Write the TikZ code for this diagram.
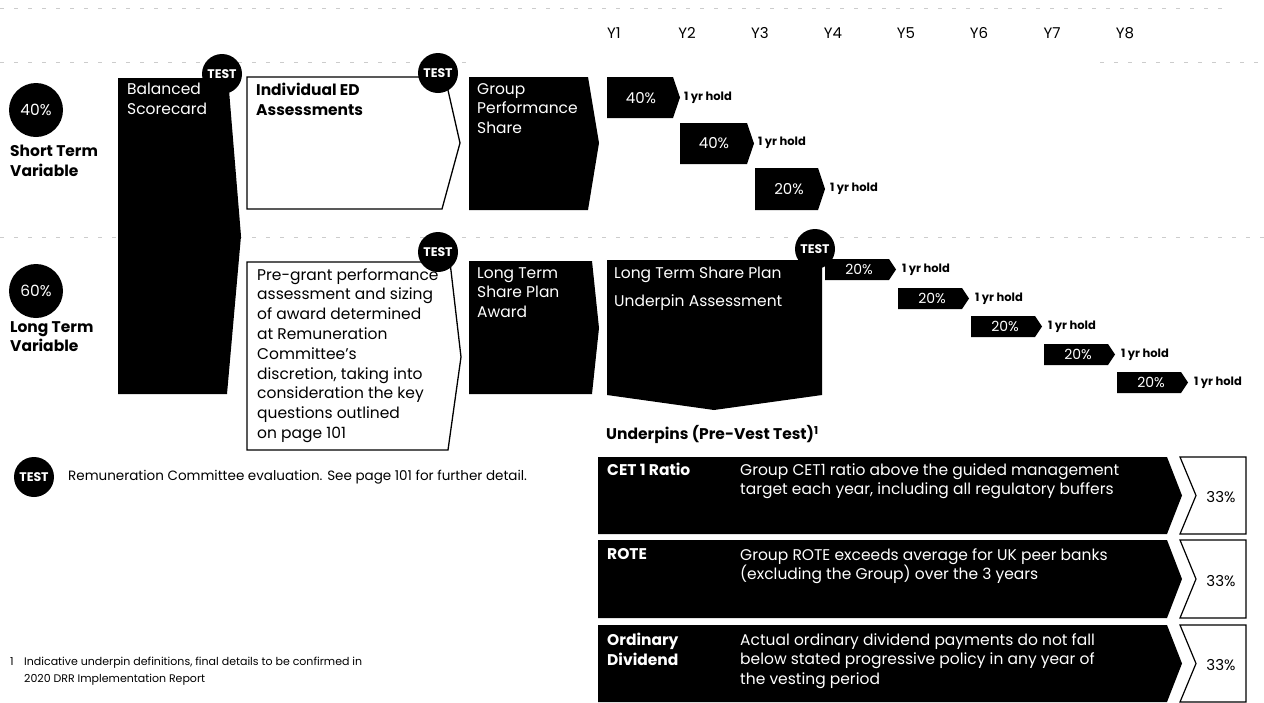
\documentclass[tikz,border=0pt]{standalone}
\usepackage{fontspec}
\setmainfont{Poppins}
\begin{document}
\begin{tikzpicture}[x=1pt,y=-1pt,
  lbl/.style={anchor=north west,inner sep=0pt,align=left,font=\fontsize{15.5}{19.8}\selectfont},
  blbl/.style={lbl,font=\bfseries\fontsize{15.5}{19.8}\selectfont},
  wlbl/.style={lbl,text=white},
  testc/.style={circle,fill=black,minimum size=40pt,inner sep=0pt,text=white,font=\bfseries\fontsize{12.5}{12.5}\selectfont},
  bigc/.style={circle,fill=black,minimum size=54pt,inner sep=0pt,text=white,font=\fontsize{15.5}{15.5}\selectfont},
  pct/.style={text=white,inner sep=0pt,font=\fontsize{14}{14}\selectfont},
  hold/.style={anchor=west,inner sep=0pt,font=\bfseries\fontsize{11.5}{11.5}\selectfont},
  yr/.style={inner sep=0pt,font=\fontsize{15}{15}\selectfont},
  small/.style={anchor=west,inner sep=0pt,align=left,font=\fontsize{11}{17}\selectfont},
  guide/.style={gray!40,dash pattern=on 4pt off 10pt,line width=0.8pt},
  wbox/.style={fill=white,draw=black,line width=1.3pt,line join=miter}]
\useasboundingbox (0,0) rectangle (1264,702);
\fill[white] (0,0) rectangle (1264,702);

% faint guide lines
\draw[guide] (0,8) -- (1230,8);
\draw[guide] (0,62) -- (470,62);
\draw[guide] (1100,62) -- (1264,62);
\draw[guide] (0,237) -- (1264,237);

% years
\foreach \k in {1,...,8} {
  \node[yr] (y\k) at ({614+73*(\k-1)},33) {Y\k};
}

% left circles and labels
\node[bigc] (c40) at (36,110) {40\%};
\node[blbl] (stv) at (10,145) {Short Term\\Variable};
\node[bigc] (c60) at (36,291) {60\%};
\node[blbl] (ltv) at (10,321) {Long Term\\Variable};

% Balanced scorecard
\fill (118,78) -- (228,78) -- (241,236) -- (227,394) -- (118,394) -- cycle;
\node[wlbl] (bs) at (127,83) {Balanced\\Scorecard};

% Individual ED
\draw[wbox] (247,77) -- (445,77) -- (460,143) -- (442,209) -- (247,209) -- cycle;
\node[blbl] (ied) at (256,83) {Individual ED\\Assessments};

% Group performance share
\fill (469,77) -- (588,77) -- (599,143) -- (588,210) -- (469,210) -- cycle;
\node[wlbl] (gps) at (477,83) {Group\\Performance\\Share};

% short term chevrons
\fill (607,77) -- (673,77) -- (680,97.5) -- (673,118) -- (607,118) -- cycle;
\node[pct,font=\fontsize{15}{15}\selectfont] (s1) at (641,98) {40\%};
\node[hold] (h1) at (684,98) {1 yr hold};
\fill (680,123) -- (747,123) -- (754,143.5) -- (747,164) -- (680,164) -- cycle;
\node[pct,font=\fontsize{15}{15}\selectfont] (s2) at (714,143) {40\%};
\node[hold] (h2) at (758,143) {1 yr hold};
\fill (755,168) -- (818,168) -- (825,189) -- (818,210) -- (755,210) -- cycle;
\node[pct,font=\fontsize{15}{15}\selectfont] (s3) at (789,189) {20\%};
\node[hold] (h3) at (830,189) {1 yr hold};

% Pre-grant white box
\draw[wbox] (247,262) -- (450,262) -- (461,357) -- (448,450) -- (247,450) -- cycle;
\node[lbl] (pg) at (257,268) {Pre-grant performance\\assessment and sizing\\of award determined\\at Remuneration\\Committee's\\discretion, taking into\\consideration the key\\questions outlined\\on page 101};

% LTSP award
\fill (469,261) -- (592,261) -- (599,328) -- (592,394) -- (469,394) -- cycle;
\node[wlbl] (lta) at (477,267) {Long Term\\Share Plan\\Award};

% LTSP underpin assessment
\fill (607,260) -- (822,260) -- (822,395) -- (714,410) -- (607,395) -- cycle;
\node[wlbl] (ltsp) at (614,267) {Long Term Share Plan};
\node[wlbl] (ua) at (614,294) {Underpin Assessment};

% long term chevrons
\foreach \i/\x/\y in {1/825/259,2/898/288,3/971/316,4/1044/344,5/1117/372} {
  \fill (\x,\y) -- ++(64,0) -- ++(7,10.5) -- ++(-7,10.5) -- ++(-64,0) -- cycle;
  \node[pct] (lp\i) at (\x+34,\y+10.5) {20\%};
  \node[hold] (lh\i) at (\x+77,\y+10.5) {1 yr hold};
}

% TEST circles
\node[testc] (t1) at (222,74) {TEST};
\node[testc] (t2) at (438,73) {TEST};
\node[testc] (t3) at (438,252) {TEST};
\node[testc] (t4) at (815,249) {TEST};

% legend
\node[testc] (tl) at (34,477) {TEST};
\node[small,font=\fontsize{13.5}{17}\selectfont] (leg) at (68,477) {Remuneration Committee evaluation. See page 101 for further detail.};
\node[small,anchor=north west] (fn1) at (10,657) {1};
\node[small,anchor=north west] (fn) at (24,657) {Indicative underpin definitions, final details to be confirmed in\\2020 DRR Implementation Report};

% underpins
\node[blbl] (uph) at (606,425) {Underpins (Pre-Vest Test)\textsuperscript{1}};
\foreach \i/\t/\b in {1/457/534,2/540/618,3/625/702} {
  \fill (598,\t) -- (1167,\t) -- (1182,{(\t+\b)/2}) -- (1167,\b) -- (598,\b) -- cycle;
  \draw[wbox,line width=1.2pt] (1180,\t) -- (1246,\t) -- (1246,\b) -- (1180,\b) -- (1196,{(\t+\b)/2}) -- cycle;
  \node[yr] (p\i) at (1221,{(\t+\b)/2+2}) {33\%};
}
\node[wlbl,font=\bfseries\fontsize{15.5}{19.8}\selectfont] (r1) at (607,463) {CET 1 Ratio};
\node[wlbl] (d1) at (740,463) {Group CET1 ratio above the guided management\\target each year, including all regulatory buffers};
\node[wlbl,font=\bfseries\fontsize{15.5}{19.8}\selectfont] (r2) at (607,548) {ROTE};
\node[wlbl] (d2) at (740,548) {Group ROTE exceeds average for UK peer banks\\(excluding the Group) over the 3 years};
\node[wlbl,font=\bfseries\fontsize{15.5}{19.8}\selectfont] (r3) at (607,633) {Ordinary\\Dividend};
\node[wlbl] (d3) at (740,633) {Actual ordinary dividend payments do not fall\\below stated progressive policy in any year of\\the vesting period};
\end{tikzpicture}
\end{document}
